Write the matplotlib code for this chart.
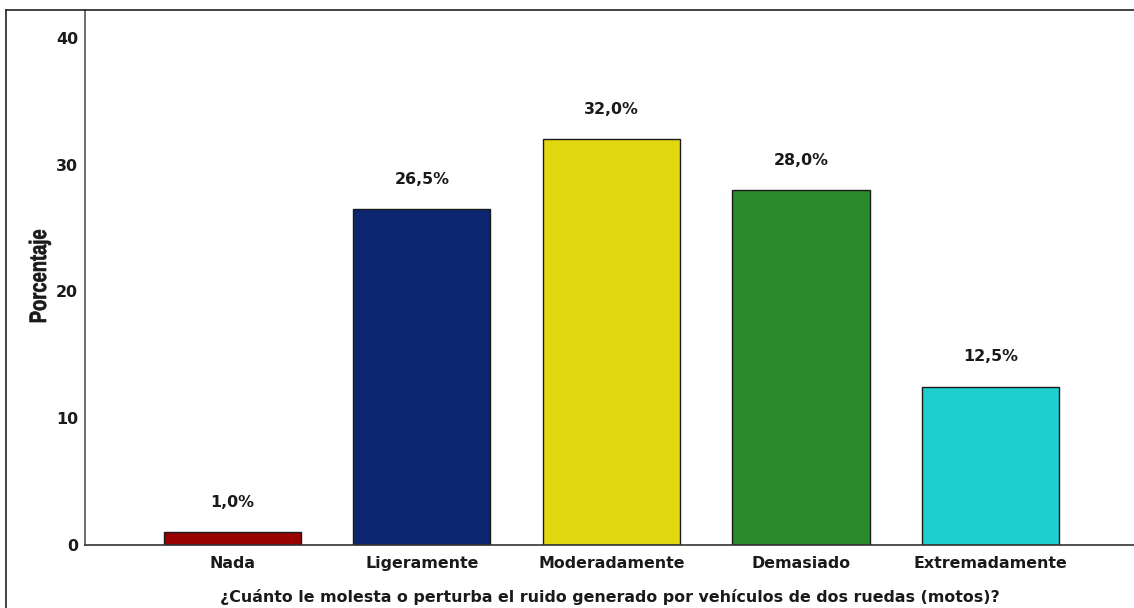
import matplotlib.pyplot as plt
from matplotlib.lines import Line2D
from matplotlib.textpath import TextPath
from matplotlib.patches import PathPatch
from matplotlib.font_manager import FontProperties
from matplotlib.transforms import Affine2D, IdentityTransform

# response categories and percentages
categories = ["Nada", "Ligeramente", "Moderadamente", "Demasiado", "Extremadamente"]
percentages = [1.0, 26.5, 32.0, 28.0, 12.5]
bar_colors = ["#990000", "#0b2570", "#e2d810", "#2a8a2a", "#1ecfcf"]
y_ticks = [0, 10, 20, 30, 40]

plt.rcParams["font.family"] = ["DejaVu Sans"]
FS = 11.4
TXT = "#1a1a1a"

W, H = 1134, 608
fig = plt.figure(figsize=(W / 100, H / 100), dpi=100)
ax = fig.add_axes([85 / W, 63 / H, (W - 85) / W, (598 - 63) / H])

x = list(range(len(categories)))
bars = ax.bar(x, percentages, width=0.723, color=bar_colors,
              edgecolor="#1a1a1a", linewidth=1.0, zorder=2)

# value labels above each bar
for xi, val in zip(x, percentages):
    ax.annotate(f"{val:.1f}%".replace(".", ","), (xi, val),
                xytext=(0, 21.6), textcoords="offset points",
                ha="center", va="center", fontsize=FS, fontweight="bold",
                color=TXT)

ax.set_xlim(-0.778, 4.757)
ax.set_ylim(0, 42.2)
ax.set_xticks(x)
ax.set_xticklabels(categories, fontsize=FS, fontweight="bold", color=TXT)
ax.set_yticks(y_ticks)
ax.set_yticklabels([str(t) for t in y_ticks], fontsize=FS, fontweight="bold",
                   color=TXT)
ax.tick_params(axis="x", length=0, pad=8)
ax.tick_params(axis="y", length=0, pad=5)

for side in ["top", "right"]:
    ax.spines[side].set_visible(False)
ax.spines["left"].set_color("#555555")
ax.spines["bottom"].set_color("#333333")
ax.spines["left"].set_linewidth(1.2)
ax.spines["bottom"].set_linewidth(1.2)

fig.text(610 / W, 1 - 597 / H,
         "¿Cuánto le molesta o perturba el ruido generado por vehículos de dos ruedas (motos)?",
         ha="center", va="center", fontsize=FS, fontweight="bold", color=TXT)

# condensed y-axis title drawn as a squeezed text path (pixel units)
tp = TextPath((0, 0), "Porcentaje", size=23.7,
              prop=FontProperties(family="Liberation Sans", weight="bold"))
bb = tp.get_extents()
sx = 92 / bb.width
ylab_tr = (Affine2D().translate(-(bb.x0 + bb.width / 2), 0).scale(sx, 1)
           .rotate_deg(90).translate(46, H - 276))
fig.add_artist(PathPatch(tp, transform=ylab_tr + IdentityTransform(),
                         facecolor=TXT, edgecolor=TXT, linewidth=0.5))

# outer frame lines
fig.add_artist(Line2D([6 / W, 6 / W], [0, 1 - 10 / H], transform=fig.transFigure,
                      color="#222222", linewidth=1.2))
fig.add_artist(Line2D([6 / W, 1], [1 - 10 / H, 1 - 10 / H], transform=fig.transFigure,
                      color="#222222", linewidth=1.2))

fig.savefig("out.png", dpi=100)
